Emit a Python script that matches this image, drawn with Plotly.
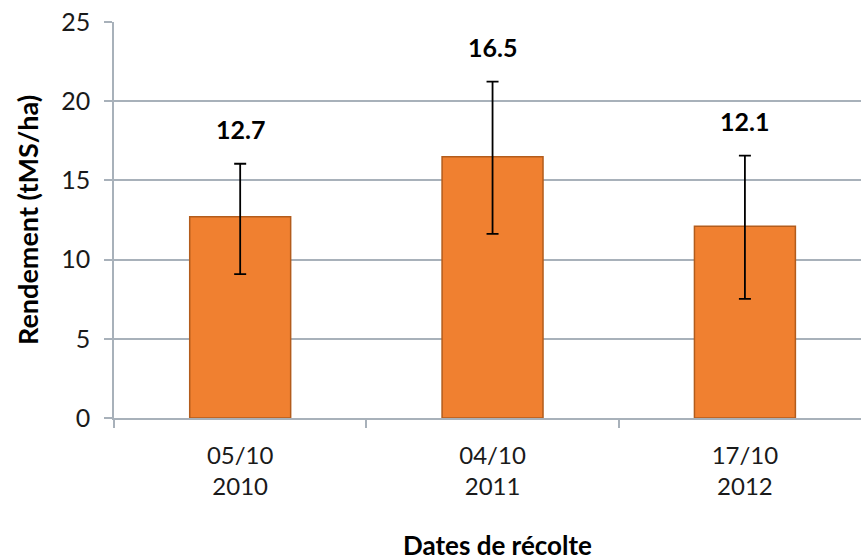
import plotly.graph_objects as go

categories = ["05/10<br>2010", "04/10<br>2011", "17/10<br>2012"]
values = [12.7, 16.5, 12.1]
err_plus = [3.35, 4.73, 4.46]
err_minus = [3.62, 4.88, 4.58]
labels = ["12.7", "16.5", "12.1"]
y_ticks = [0, 5, 10, 15, 20, 25]

FONT = "Lato, Carlito, Calibri, sans-serif"
GRID = "#A8B1BA"

W, H = 861, 560
L, R, T, B = 114, 0, 22, 142
PW, PH = W - L - R, H - T - B

fig = go.Figure()
fig.add_trace(go.Bar(
    x=categories, y=values, width=0.4,
    marker=dict(color="#F08030", line=dict(color="#B35C1C", width=1.5)),
    error_y=dict(type="data", symmetric=False, array=err_plus, arrayminus=err_minus,
                 color="black", thickness=1.8, width=6),
    hoverinfo="skip",
))

for c, v, p, t in zip(categories, values, err_plus, labels):
    fig.add_annotation(x=c, y=v + p, text=f"<b>{t}</b>", showarrow=False,
                       yanchor="middle", yshift=35,
                       font=dict(family=FONT, size=25, color="black"))

fig.add_annotation(text="<b>Rendement (tMS/ha)</b>", xref="paper", yref="paper",
                   x=(27 - L) / PW, y=0.5, textangle=-90, showarrow=False,
                   xanchor="center", yanchor="middle",
                   font=dict(family=FONT, size=27, color="black"))
fig.add_annotation(text="<b>Dates de récolte</b>", xref="paper", yref="paper",
                   x=(497 - L) / PW, y=(418 - 545) / PH, showarrow=False,
                   xanchor="center", yanchor="middle",
                   font=dict(family=FONT, size=26, color="black"))

fig.update_layout(
    width=W, height=H,
    margin=dict(l=L, r=R, t=T, b=B),
    paper_bgcolor="white", plot_bgcolor="white",
    showlegend=False,
    font=dict(family=FONT, color="#1a1a1a"),
    xaxis=dict(
        range=[-0.5, 2.46], type="category", automargin=False,
        showline=True, linecolor=GRID, linewidth=1.5,
        ticks="outside", tickson="boundaries", ticklen=8, tickcolor=GRID, tickwidth=1.5,
        tickfont=dict(family=FONT, size=24, color="#1a1a1a"),
        ticklabelstandoff=15,
        showgrid=False,
    ),
    yaxis=dict(
        range=[0, 25], tickvals=y_ticks, automargin=False,
        showline=True, linecolor=GRID, linewidth=1.5,
        ticks="outside", ticklen=8, tickcolor=GRID, tickwidth=1.5,
        showgrid=True, gridcolor=GRID, gridwidth=1.5,
        zeroline=False,
        tickfont=dict(family=FONT, size=25, color="#1a1a1a"),
        ticklabelstandoff=9,
    ),
)

fig.write_html("out.html",
               config={"displayModeBar": False},
               post_script="document.body.style.margin='0';document.body.style.overflow='hidden';")
